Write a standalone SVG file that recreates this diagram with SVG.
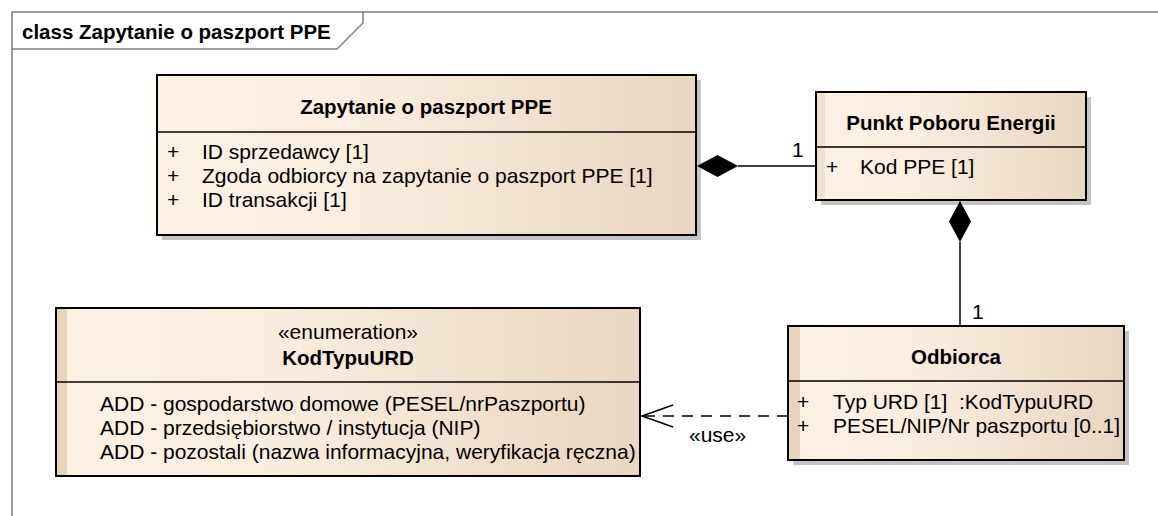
<svg xmlns="http://www.w3.org/2000/svg" width="1158" height="516" viewBox="0 0 1158 516">
<defs>
<linearGradient id="fillG" x1="0" y1="0" x2="1" y2="0">
<stop offset="0" stop-color="#FBF1E5"/>
<stop offset="0.35" stop-color="#F9EEE0"/>
<stop offset="1" stop-color="#E8D7C0"/>
</linearGradient>
</defs>
<style>
text{font-family:"Liberation Sans",Arial,sans-serif;font-size:21px;fill:#000;white-space:pre}
.b{font-weight:bold;font-size:20.5px}
.c{text-anchor:middle}
.box{fill:url(#fillG);stroke:#000;stroke-width:2}
.shadow{fill:#C4C4C4}
.strip{fill:#E6D4BC}
.div{stroke:#000;stroke-width:1.5}
.frame{fill:none;stroke:#7F7F7F;stroke-width:1.5}
.conn{stroke:#000;stroke-width:1.5;fill:none}
</style>
<rect width="1158" height="516" fill="#FFFFFF"/>
<g id="frame">
<rect class="frame" x="12" y="12" width="1160" height="520"/>
<path class="frame" d="M12,49 L337,49 L363,23 L363,12"/>
<text class="b" x="22" y="39">class Zapytanie o paszport PPE</text>
</g>
<g id="node-zapytanie">
<rect class="shadow" x="162" y="80" width="539" height="160"/>
<rect class="box" x="157" y="75" width="539" height="160"/>
<line class="div" x1="157" y1="132" x2="696" y2="132"/>
<text class="b c" x="426" y="114">Zapytanie o paszport PPE</text>
<text x="167" y="159">+</text><text x="202" y="159">ID sprzedawcy [1]</text>
<text x="167" y="183">+</text><text x="202" y="183">Zgoda odbiorcy na zapytanie o paszport PPE [1]</text>
<text x="167" y="207">+</text><text x="202" y="207">ID transakcji [1]</text>
</g>
<g id="node-punkt">
<rect class="shadow" x="821" y="97" width="270" height="108"/>
<rect class="box" x="816" y="92" width="270" height="108"/>
<rect class="strip" x="817" y="93" width="8" height="106" opacity="0.5"/>
<line class="div" x1="816" y1="147" x2="1086" y2="147"/>
<text class="b c" x="951" y="130">Punkt Poboru Energii</text>
<text x="826" y="174">+</text><text x="860" y="174">Kod PPE [1]</text>
</g>
<g id="node-odbiorca">
<rect class="shadow" x="793" y="331" width="336" height="134"/>
<rect class="box" x="788" y="326" width="336" height="134"/>
<rect class="strip" x="789" y="327" width="11" height="132"/>
<line class="div" x1="788" y1="381" x2="1124" y2="381"/>
<text class="b c" x="956" y="364">Odbiorca</text>
<text x="797" y="409">+</text><text x="833" y="409">Typ URD [1]  :KodTypuURD</text>
<text x="797" y="433">+</text><text x="833" y="433">PESEL/NIP/Nr paszportu [0..1]</text>
</g>
<g id="node-kodtypuurd">
<rect class="box" x="56" y="308" width="584" height="168"/>
<rect class="strip" x="57" y="309" width="10" height="166"/>
<line class="div" x1="56" y1="382" x2="640" y2="382"/>
<text class="c" x="348" y="339">«enumeration»</text>
<text class="b c" x="348" y="365">KodTypuURD</text>
<text x="100" y="411">ADD - gospodarstwo domowe (PESEL/nrPaszportu)</text>
<text x="100" y="435">ADD - przedsiębiorstwo / instytucja (NIP)</text>
<text x="100" y="459">ADD - pozostali (nazwa informacyjna, weryfikacja ręczna)</text>
</g>
<g id="connectors">
<line class="conn" x1="738" y1="166" x2="816" y2="166"/>
<path d="M697,166 L717.5,155 L738,166 L717.5,177 Z" fill="#000"/>
<text x="792" y="157">1</text>
<line class="conn" x1="960" y1="242" x2="960" y2="326"/>
<path d="M960,201 L971,221.5 L960,242 L949,221.5 Z" fill="#000"/>
<text x="972" y="319">1</text>
<line class="conn" x1="788" y1="416" x2="643" y2="416" stroke-dasharray="11,8"/>
<path class="conn" d="M673,405 L642,416 L673,427"/>
<text x="689" y="442">«use»</text>
</g>
</svg>
